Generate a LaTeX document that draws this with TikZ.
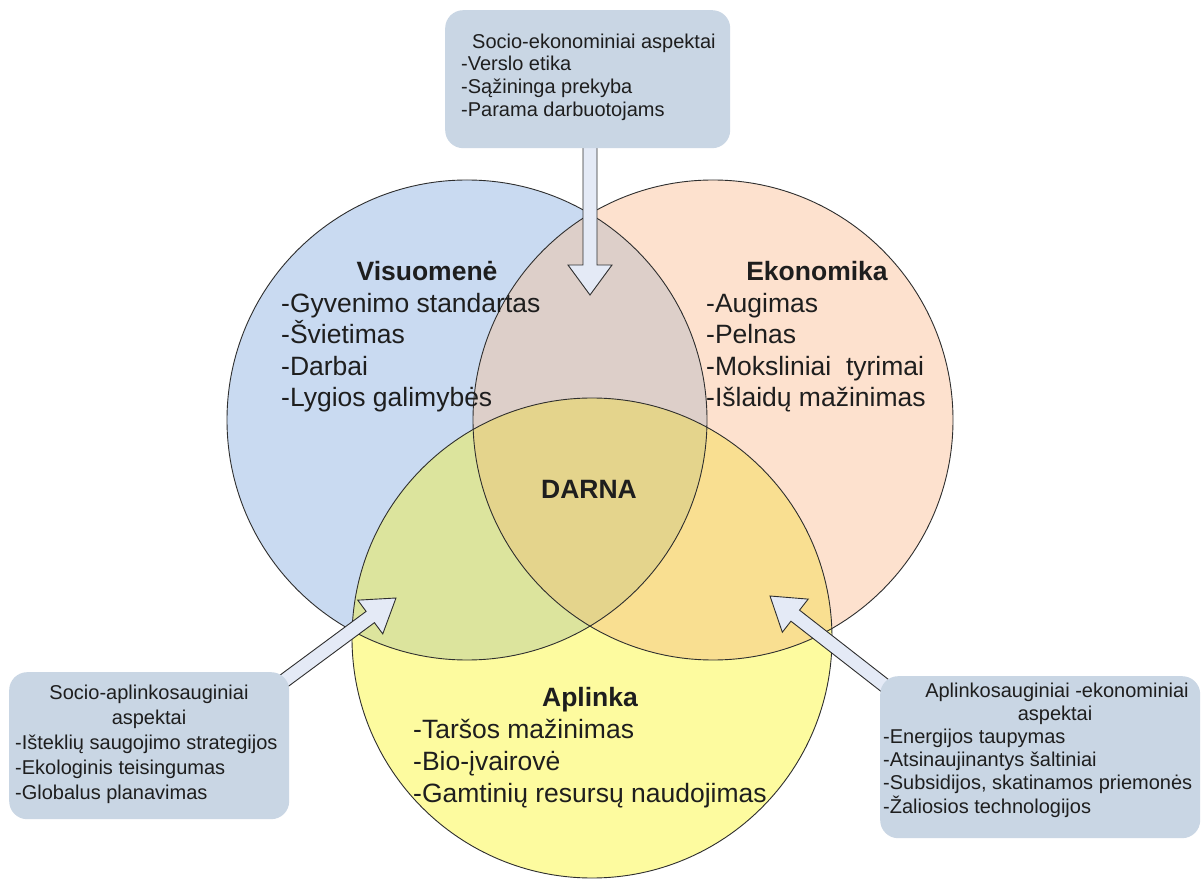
\documentclass[tikz,border=0pt]{standalone}
\usepackage{fontspec}
\setmainfont{Liberation Sans}
\usetikzlibrary{calc}
\definecolor{cblue}{HTML}{C9DAF1}
\definecolor{corange}{HTML}{FDE1CE}
\definecolor{cyellow}{HTML}{FDFB9F}
\definecolor{cbo}{HTML}{DDCFC9}
\definecolor{cby}{HTML}{DCE49D}
\definecolor{coy}{HTML}{F9DF91}
\definecolor{call}{HTML}{E4D48C}
\definecolor{boxfill}{HTML}{C9D6E4}
\definecolor{arrfill}{HTML}{E4EAF6}
\definecolor{edge}{HTML}{2E2E2E}
\definecolor{txt}{HTML}{1E1E1E}
\newcommand\blockarrow[4]{% from, to, head length, head half width
  \coordinate (bh) at ($(#2)!#3!(#1)$);
  \draw[blockarr] ($(#1)!7pt!90:(#2)$) -- ($(bh)!7pt!90:(#2)$) -- ($(bh)!#4!90:(#2)$)
    -- (#2) -- ($(bh)!#4!-90:(#2)$) -- ($(bh)!7pt!-90:(#2)$) -- ($(#1)!7pt!-90:(#2)$) -- cycle;}
\begin{document}
\begin{tikzpicture}[x=1pt,y=-1pt,
  ring/.style={draw=edge, line width=0.9pt},
  infobox/.style={fill=boxfill, rounded corners=18pt, draw=none, inner sep=0pt},
  blockarr/.style={fill=arrfill, draw=edge, line width=0.9pt, line join=miter},
  big/.style={font=\fontsize{26.5}{30}\selectfont, text=txt, inner sep=0pt},
  bigb/.style={font=\bfseries\fontsize{26.5}{30}\selectfont, text=txt, inner sep=0pt},
  small/.style={font=\fontsize{20}{24}\selectfont, text=txt, inner sep=0pt}]

\useasboundingbox (0,0) rectangle (1203,882);
\fill[white] (0,0) rectangle (1203,882);

\coordinate (cS) at (467,420);
\coordinate (cE) at (713,420);
\coordinate (cA) at (592,638);
\def\R{240pt}

% circles and overlaps
\fill[cblue] (cS) circle[radius=\R];
\fill[corange] (cE) circle[radius=\R];
\fill[cyellow] (cA) circle[radius=\R];
\begin{scope}\clip (cS) circle[radius=\R]; \fill[cbo] (cE) circle[radius=\R]; \fill[cby] (cA) circle[radius=\R];\end{scope}
\begin{scope}\clip (cE) circle[radius=\R]; \fill[coy] (cA) circle[radius=\R];\end{scope}
\begin{scope}\clip (cS) circle[radius=\R]; \clip (cE) circle[radius=\R]; \fill[call] (cA) circle[radius=\R];\end{scope}
\draw[ring] (cS) circle[radius=\R];
\draw[ring] (cE) circle[radius=\R];
\draw[ring] (cA) circle[radius=\R];

% arrows
\coordinate (tA1) at (590,140);
\coordinate (tA2) at (590,295);
\coordinate (lA1) at (273,689);
\coordinate (lA2) at (396,598);
\coordinate (rA1) at (897,695);
\coordinate (rA2) at (770,596);
\blockarrow{tA1}{tA2}{30pt}{22pt}
\blockarrow{lA1}{lA2}{32pt}{21pt}
\blockarrow{rA1}{rA2}{32pt}{21pt}

% boxes
\node[infobox, minimum width=285pt, minimum height=138pt, anchor=north west] (topbox) at (445,10) {};
\node[infobox, minimum width=280pt, minimum height=147pt, anchor=north west] (leftbox) at (9,672) {};
\node[infobox, minimum width=320pt, minimum height=162pt, anchor=north west] (rightbox) at (880,676) {};

% circle texts
\node[bigb, anchor=base] (socT) at (427,281) {Visuomenė};
\foreach \t [count=\i] in {-Gyvenimo standartas, -Švietimas, -Darbai, -Lygios galimybės}
  \node[big, anchor=base west] (soc\i) at (281,{281+31.5*\i}) {\t};
\node[bigb, anchor=base] (ekoT) at (817,281) {Ekonomika};
\foreach \t [count=\i] in {-Augimas, -Pelnas, {-Moksliniai\ \ tyrimai}, -Išlaidų mažinimas}
  \node[big, anchor=base west] (eko\i) at (706,{281+31.5*\i}) {\t};
\node[bigb, anchor=base] (aplT) at (590,706) {Aplinka};
\foreach \t [count=\i] in {-Taršos mažinimas, -Bio-įvairovė, -Gamtinių resursų naudojimas}
  \node[big, anchor=base west] (apl\i) at (413,{706+32*\i}) {\t};
\node[bigb, anchor=base] (darna) at (589,499) {DARNA};

% box texts
\node[small, anchor=base west] (t0) at (472,49) {Socio-ekonominiai aspektai};
\node[small, anchor=base west] (t1) at (461,71) {-Verslo etika};
\node[small, anchor=base west] (t2) at (461,94) {-Sąžininga prekyba};
\node[small, anchor=base west] (t3) at (461,117) {-Parama darbuotojams};

\node[small, anchor=base] (l0) at (149,699) {Socio-aplinkosauginiai};
\node[small, anchor=base] (l1) at (149,724) {aspektai};
\node[small, anchor=base west] (l2) at (15,749) {-Išteklių saugojimo strategijos};
\node[small, anchor=base west] (l3) at (15,774) {-Ekologinis teisingumas};
\node[small, anchor=base west] (l4) at (15,799) {-Globalus planavimas};

\node[small, anchor=base] (r0) at (1057,697) {Aplinkosauginiai -ekonominiai};
\node[small, anchor=base] (r1) at (1055,720) {aspektai};
\node[small, anchor=base west] (r2) at (883,743) {-Energijos taupymas};
\node[small, anchor=base west] (r3) at (883,766) {-Atsinaujinantys šaltiniai};
\node[small, anchor=base west] (r4) at (883,789) {-Subsidijos, skatinamos priemonės};
\node[small, anchor=base west] (r5) at (883,813) {-Žaliosios technologijos};
\end{tikzpicture}
\end{document}
